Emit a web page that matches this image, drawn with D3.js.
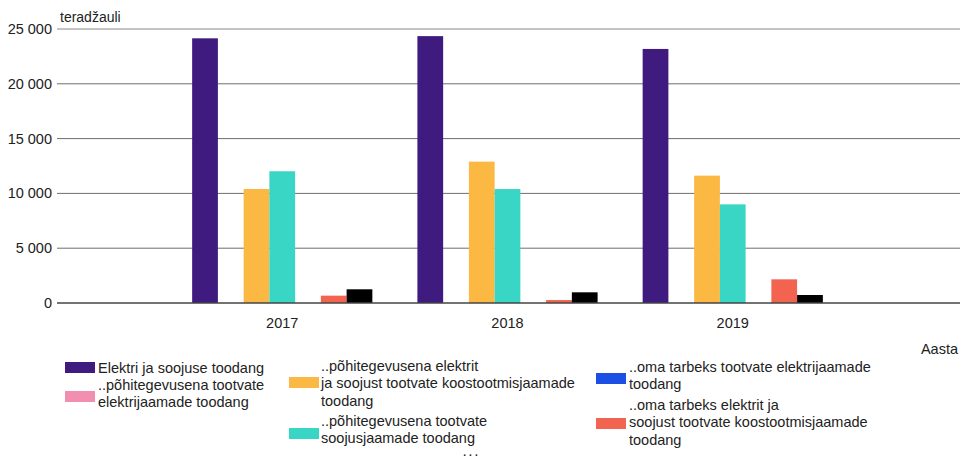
<!DOCTYPE html>
<html>
<head>
<meta charset="utf-8">
<script src="https://cdn.jsdelivr.net/npm/d3@7"></script>
<style>
  html, body { margin: 0; padding: 0; background: #fff; }
  svg { display: block; font-family: "Liberation Sans", Arial, sans-serif; }
</style>
</head>
<body>
<svg id="chart" width="960" height="459"></svg>
<script>
const years = [2017, 2018, 2019];
const seriesNames = [
  "Elektri ja soojuse toodang",
  "..põhitegevusena tootvate elektrijaamade toodang",
  "..põhitegevusena elektrit ja soojust tootvate koostootmisjaamade toodang",
  "..põhitegevusena tootvate soojusjaamade toodang",
  "..oma tarbeks tootvate elektrijaamade toodang",
  "..oma tarbeks elektrit ja soojust tootvate koostootmisjaamade toodang",
  "..oma tarbeks tootvate soojusjaamade toodang"
];
const legendLines = [
  ["Elektri ja soojuse toodang"],
  ["..põhitegevusena tootvate", "elektrijaamade toodang"],
  ["..põhitegevusena elektrit", "ja soojust tootvate koostootmisjaamade", "toodang"],
  ["..põhitegevusena tootvate", "soojusjaamade toodang"],
  ["..oma tarbeks tootvate elektrijaamade", "toodang"],
  ["..oma tarbeks elektrit ja", "soojust tootvate koostootmisjaamade", "toodang"]
];
const colors = ["#3f1b80", "#f28fb0", "#fbb843", "#3ad6c5", "#1c4fe3", "#f2644f", "#000000"];
const values = [
  [24150, 24350, 23180],
  [0, 0, 0],
  [10400, 12900, 11620],
  [12020, 10400, 9000],
  [0, 0, 0],
  [670, 270, 2160],
  [1250, 975, 730]
];
const yTicks = [0, 5000, 10000, 15000, 20000, 25000];
const yTickLabels = ["0", "5 000", "10 000", "15 000", "20 000", "25 000"];

const svg = d3.select("#chart");
const pLeft = 57, pRight = 958, pTop = 29, pBottom = 303;
const fs = 14.5;

const x = d3.scaleLinear().domain([2016, 2020]).range([pLeft, pRight]);
const y = d3.scaleLinear().domain([0, 25000]).range([pBottom, pTop]);
const step = x(2017) - x(2016);
const bw = step * 0.8 / seriesNames.length;

// gridlines
const grid = svg.append("g");
yTicks.forEach((t) => {
  if (t === 0) return;
  grid.append("line")
    .attr("x1", pLeft).attr("x2", 960)
    .attr("y1", y(t)).attr("y2", y(t))
    .attr("stroke", t === 25000 ? "#b0b0b0" : "#6e6e6e")
    .attr("stroke-width", t === 25000 ? 1.6 : 1);
});

// y tick labels
svg.append("g").selectAll("text").data(yTicks).join("text")
  .attr("x", 52).attr("y", d => y(d) + 5)
  .attr("text-anchor", "end")
  .attr("font-size", fs).attr("fill", "#222")
  .text((d, i) => yTickLabels[i]);

// bars
const bars = svg.append("g");
seriesNames.forEach((name, s) => {
  bars.append("g").selectAll("rect").data(years).join("rect")
    .attr("x", d => x(d) + (s - seriesNames.length / 2) * bw)
    .attr("width", bw)
    .attr("y", (d, i) => y(values[s][i]))
    .attr("height", (d, i) => y(0) - y(values[s][i]))
    .attr("fill", colors[s]);
});

// baseline
svg.append("line")
  .attr("x1", pLeft).attr("x2", 960)
  .attr("y1", y(0)).attr("y2", y(0))
  .attr("stroke", "#444").attr("stroke-width", 1.5);

// x tick labels
svg.append("g").selectAll("text").data(years).join("text")
  .attr("x", d => x(d)).attr("y", 328)
  .attr("text-anchor", "middle")
  .attr("font-size", fs).attr("fill", "#222")
  .text(d => d);

// axis titles
svg.append("text").attr("x", 60).attr("y", 22)
  .attr("font-size", 14).attr("fill", "#222").text("teradžauli");
svg.append("text").attr("x", 958).attr("y", 354)
  .attr("text-anchor", "end")
  .attr("font-size", fs).attr("fill", "#222").text("Aasta");

// legend
const legendPos = [
  { sx: 65, sy: 362, tx: 98, ty: 373 },
  { sx: 65, sy: 391, tx: 98, ty: 390 },
  { sx: 289, sy: 377, tx: 321, ty: 371 },
  { sx: 289, sy: 428, tx: 321, ty: 426 },
  { sx: 596, sy: 373, tx: 629, ty: 372 },
  { sx: 596, sy: 418, tx: 629, ty: 410 }
];
const lg = svg.append("g");
legendLines.forEach((lines, i) => {
  const p = legendPos[i];
  lg.append("rect").attr("x", p.sx).attr("y", p.sy)
    .attr("width", 30).attr("height", 11).attr("fill", colors[i]);
  lines.forEach((ln, j) => {
    lg.append("text").attr("x", p.tx).attr("y", p.ty + j * 17.3)
      .attr("font-size", fs).attr("fill", "#222").text(ln);
  });
});
// paging dots
svg.append("text").attr("x", 472).attr("y", 456)
  .attr("text-anchor", "middle")
  .attr("font-size", 10).attr("font-weight", "bold")
  .attr("letter-spacing", 3).attr("fill", "#222")
  .text("...");
</script>
</body>
</html>
